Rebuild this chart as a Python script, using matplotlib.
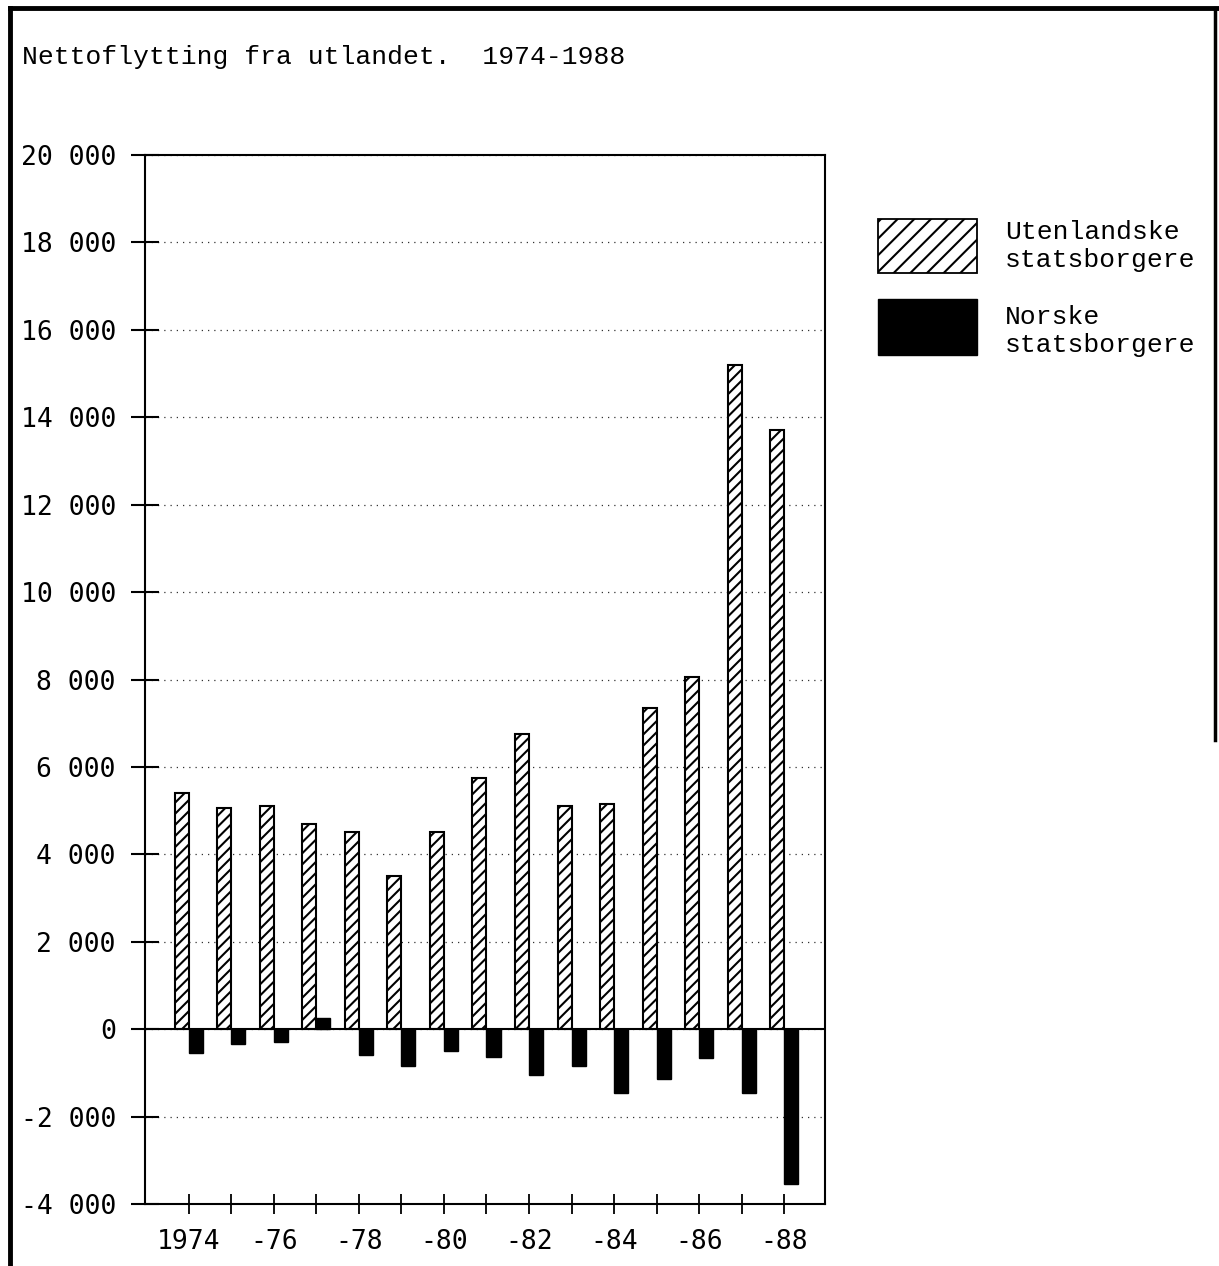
import numpy as np
import matplotlib
matplotlib.use('Agg')
import matplotlib.pyplot as plt
from matplotlib.patches import Rectangle
from matplotlib.lines import Line2D

# data
years = list(range(1974, 1989))
utenlandske = [5400, 5050, 5100, 4700, 4500, 3500, 4500, 5750, 6750, 5100, 5150, 7350, 8050, 15200, 13700]
norske = [-550, -350, -300, 250, -600, -850, -500, -630, -1050, -850, -1450, -1150, -650, -1450, -3550]
yticks = [-4000, -2000, 0, 2000, 4000, 6000, 8000, 10000, 12000, 14000, 16000, 18000, 20000]
ylabels = ['-4 000', '-2 000', '0', '2 000', '4 000', '6 000', '8 000', '10 000',
           '12 000', '14 000', '16 000', '18 000', '20 000']
xlabels = ['1974', '', '-76', '', '-78', '', '-80', '', '-82', '', '-84', '', '-86', '', '-88']

title = 'Nettoflytting fra utlandet.  1974-1988'
leg1 = 'Utenlandske\nstatsborgere'
leg2 = 'Norske\nstatsborgere'

W, H = 1219, 1266
plt.rcParams['hatch.linewidth'] = 1.5
mono = 'Liberation Mono'
tickfont = 'DejaVu Sans Mono'

fig = plt.figure(figsize=(W / 100, H / 100), dpi=100)
ax = fig.add_axes([145 / W, 1 - 1204 / H, (825 - 145) / W, (1204 - 155) / H])

w = 0.33
x = np.array(years)
ax.bar(x - w, utenlandske, w, align='edge', color='white', edgecolor='black',
       hatch='///', linewidth=1.5, zorder=3)
ax.bar(x, norske, w, align='edge', color='black', edgecolor='black', zorder=3)
ax.axhline(0, color='black', lw=1.5, zorder=4)

ax.set_xlim(1972.97, 1988.96)
ax.set_ylim(-4000, 20000)
ax.set_yticks(yticks)
ax.set_yticklabels(ylabels, fontfamily=tickfont, fontsize=19)
ax.set_xticks(years)
ax.set_xticklabels(xlabels, fontfamily=tickfont, fontsize=19)
ax.tick_params(axis='y', direction='inout', length=20, width=1.5, pad=11)
ax.tick_params(axis='x', direction='inout', length=14, width=1.3, pad=11)
ax.yaxis.grid(True, linestyle=(0, (1, 4)), linewidth=0.9, color='#333333')
for s in ax.spines.values():
    s.set_linewidth(1.5)

# legend drawn by hand in figure coords
fig.add_artist(Rectangle((878 / W, 1 - 273 / H), 99 / W, 54 / H, transform=fig.transFigure,
                         facecolor='white', edgecolor='black', hatch='//', linewidth=1.3))
fig.add_artist(Rectangle((878 / W, 1 - 355 / H), 99 / W, 56 / H, transform=fig.transFigure,
                         facecolor='black', edgecolor='black'))
fig.text(1005 / W, 1 - 246 / H, leg1, fontfamily=mono, fontsize=19, va='center', linespacing=1.2)
fig.text(1005 / W, 1 - 331 / H, leg2, fontfamily=mono, fontsize=19, va='center', linespacing=1.2)

fig.text(22 / W, 1 - 57 / H, title, fontfamily=mono, fontsize=19, va='center')

# frame around the figure
fig.add_artist(Line2D([10 / W, 10 / W], [0, 1 - 8 / H], lw=3.5, color='black', transform=fig.transFigure))
fig.add_artist(Line2D([10 / W, 1217 / W], [1 - 8 / H, 1 - 8 / H], lw=3.5, color='black', transform=fig.transFigure))
fig.add_artist(Line2D([1215 / W, 1215 / W], [1 - 740 / H, 1 - 8 / H], lw=2.5, color='black', transform=fig.transFigure))

fig.savefig('out.png', dpi=100)
